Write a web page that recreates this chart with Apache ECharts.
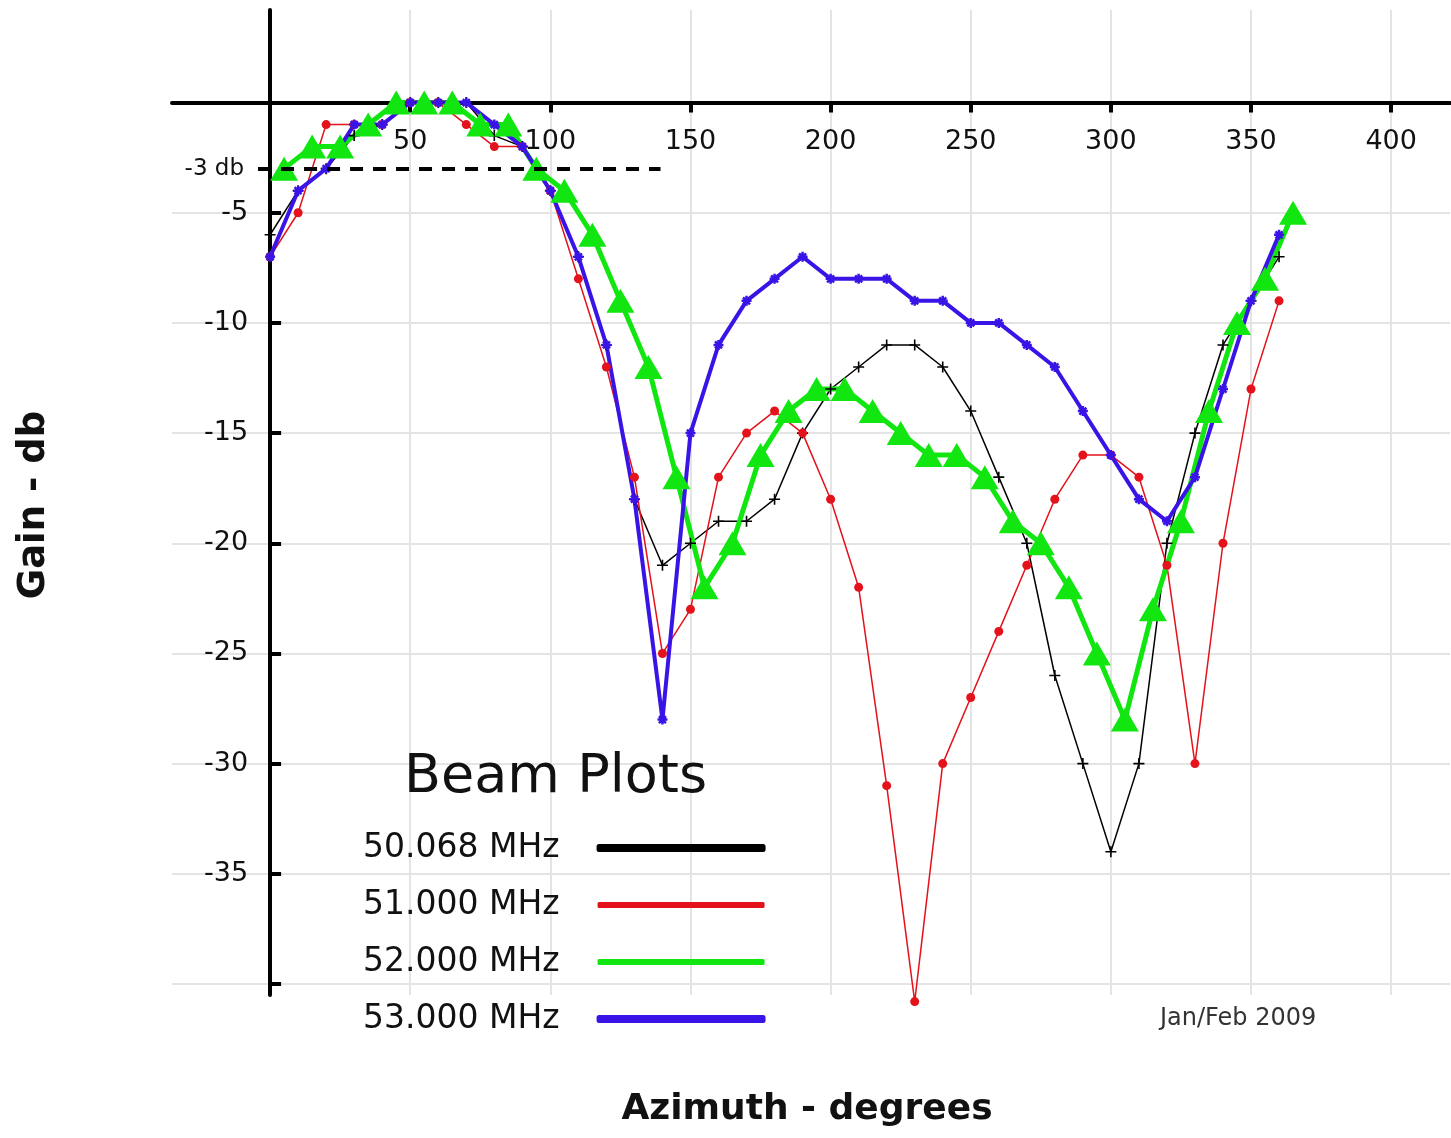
<!DOCTYPE html>
<html>
<head>
<meta charset="utf-8">
<script src="https://cdn.jsdelivr.net/npm/echarts@6/dist/echarts.min.js"></script>
<style>
html,body{margin:0;padding:0;background:#fff;}
#chart{width:1451px;height:1138px;}
</style>
</head>
<body>
<div id="chart"></div>
<script>
// ---- Data ----
const seriesNames = ['50.068 MHz', '51.000 MHz', '52.000 MHz', '53.000 MHz'];

const azimuth = [0,10,20,30,40,50,60,70,80,90,100,110,120,130,140,150,160,170,180,190,200,210,220,230,240,250,260,270,280,290,300,310,320,330,340,350,360];
const azimuthGreen = [5,15,25,35,45,55,65,75,85,95,105,115,125,135,145,155,165,175,185,195,205,215,225,235,245,255,265,275,285,295,305,315,325,335,345,355,365];

const gain50068 = [-6,-4,-3,-1.5,-1,0,0,0,-1.5,-2,-4,-7,-11,-18,-21,-20,-19,-19,-18,-15,-13,-12,-11,-11,-12,-14,-17,-20,-26,-30,-34,-30,-20,-15,-11,-9,-7];
const gain51000 = [-7,-5,-1,-1,-1,0,0,-1,-2,-2,-4,-8,-12,-17,-25,-23,-17,-15,-14,-15,-18,-22,-31,-40.8,-30,-27,-24,-21,-18,-16,-16,-17,-21,-30,-20,-13,-9];
const gain52000 = [-3,-2,-2,-1,0,0,0,-1,-1,-3,-4,-6,-9,-12,-17,-22,-20,-16,-14,-13,-13,-14,-15,-16,-16,-17,-19,-20,-22,-25,-28,-23,-19,-14,-10,-8,-5];
const gain53000 = [-7,-4,-3,-1,-1,0,0,0,-1,-2,-4,-7,-11,-18,-28,-15,-11,-9,-8,-7,-8,-8,-8,-9,-9,-10,-10,-11,-12,-14,-16,-18,-19,-17,-13,-9,-6];

const xTickValues = [0,50,100,150,200,250,300,350,400];
const xLabelValues = [50,100,150,200,250,300,350,400];
const yTickValues = [-40,-35,-30,-25,-20,-15,-10,-5,0];
const yLabelValues = [-35,-30,-25,-20,-15,-10,-5];

const halfPowerDb = -3;
const halfPowerSpan = [-4.3, 139.3];

// ---- Layout ----
const W = 1451, H = 1138;
const G = {left: 172, right: 1, top: 10, bottom: 143};
const X_RANGE = [-35, 421];
const Y_RANGE = [-40.5, 4.2];
const plotW = W - G.left - G.right;
const plotH = H - G.top - G.bottom;
// axes cross at (0, 0): shift the axes from the grid edges onto the zero lines
const xAxisOffset = -(plotH * (0 - Y_RANGE[0]) / (Y_RANGE[1] - Y_RANGE[0]));
const yAxisOffset = -(plotW * (0 - X_RANGE[0]) / (X_RANGE[1] - X_RANGE[0]));

function pairs(xs, ys) { return xs.map((x, i) => [x, ys[i]]); }

const FONT = '"DejaVu Sans", "Liberation Sans", sans-serif';
const plusPath = 'path://M0,5L10,5M5,0L5,10';
const starPath = 'path://M0,5L10,5M5,0L5,10M1.5,1.5L8.5,8.5M1.5,8.5L8.5,1.5';

const chart = echarts.init(document.getElementById('chart'), null, {renderer: 'canvas'});

const option = {
  animation: false,
  backgroundColor: '#ffffff',
  textStyle: {fontFamily: FONT},
  title: [
    {
      text: 'Beam Plots', left: 404, top: 751, padding: 0,
      textStyle: {fontSize: 54, fontWeight: 'normal', color: '#111', fontFamily: FONT}
    },
    {
      text: 'Jan/Feb 2009', left: 1160, top: 1007, padding: 0,
      textStyle: {fontSize: 24, fontWeight: 'normal', color: '#333', fontFamily: FONT}
    }
  ],
  legend: {
    orient: 'vertical',
    align: 'right',
    left: 363,
    top: 830,
    padding: 0,
    itemGap: 21,
    itemWidth: 167,
    itemHeight: 6,
    icon: 'roundRect',
    data: seriesNames,
    textStyle: {fontSize: 33, color: '#111', fontFamily: FONT, lineHeight: 36, padding: [0, 33, 0, 0]}
  },
  grid: {left: G.left, right: G.right, top: G.top, bottom: G.bottom, containLabel: false, outerBoundsMode: 'none'},
  xAxis: {
    type: 'value',
    position: 'bottom',
    offset: xAxisOffset,
    min: X_RANGE[0], max: X_RANGE[1],
    minInterval: 50, maxInterval: 50,
    axisLine: {show: true, onZero: false, lineStyle: {color: '#000', width: 4}},
    axisTick: {show: true, customValues: xTickValues, length: 10, inside: false, lineStyle: {color: '#000', width: 4}},
    axisLabel: {
      customValues: xLabelValues, fontSize: 27, color: '#111', margin: 26, fontFamily: FONT,
      formatter: v => (xLabelValues.indexOf(v) >= 0 ? String(v) : '')
    },
    splitLine: {show: true, lineStyle: {color: '#e4e4e4', width: 2}}
  },
  yAxis: {
    type: 'value',
    position: 'left',
    offset: yAxisOffset,
    min: Y_RANGE[0], max: Y_RANGE[1],
    minInterval: 5, maxInterval: 5,
    axisLine: {show: true, onZero: false, lineStyle: {color: '#000', width: 4}},
    axisTick: {show: true, customValues: yTickValues, length: 11, inside: true, lineStyle: {color: '#000', width: 4}},
    axisLabel: {
      customValues: yLabelValues, fontSize: 27, color: '#111', margin: 22, fontFamily: FONT,
      formatter: v => (yLabelValues.indexOf(v) >= 0 ? String(v) : '')
    },
    splitLine: {show: true, lineStyle: {color: '#e4e4e4', width: 2}}
  },
  graphic: [
    {
      type: 'text', x: 34, y: 505, rotation: Math.PI / 2, z: 10,
      style: {text: 'Gain - db', font: 'bold 37px ' + FONT, fill: '#111', textAlign: 'center', textVerticalAlign: 'middle', align: 'center', verticalAlign: 'middle'}
    },
    {
      type: 'text', x: 807, y: 1110, z: 10,
      style: {text: 'Azimuth - degrees', font: 'bold 36px ' + FONT, fill: '#111', textAlign: 'center', textVerticalAlign: 'middle', align: 'center', verticalAlign: 'middle'}
    }
  ],
  series: [
    {
      name: seriesNames[0], type: 'line', data: pairs(azimuth, gain50068),
      showAllSymbol: true, symbol: plusPath, symbolSize: 11, symbolKeepAspect: true,
      itemStyle: {color: '#000', borderColor: '#000', borderWidth: 1.6},
      lineStyle: {color: '#000', width: 1.5},
      clip: false,
      markLine: {
        silent: true, symbol: ['none', 'none'], animation: false,
        lineStyle: {color: '#000', width: 4, type: [13, 10]},
        label: {show: true, position: 'start', formatter: '-3 db', fontSize: 23, color: '#111', distance: 14, fontFamily: FONT},
        data: [[{coord: [halfPowerSpan[0], halfPowerDb]}, {coord: [halfPowerSpan[1], halfPowerDb]}]]
      }
    },
    {
      name: seriesNames[1], type: 'line', data: pairs(azimuth, gain51000),
      showAllSymbol: true, symbol: 'circle', symbolSize: 9,
      itemStyle: {color: '#e3121b', borderWidth: 0},
      lineStyle: {color: '#e3121b', width: 1.5},
      clip: false
    },
    {
      name: seriesNames[2], type: 'line', data: pairs(azimuthGreen, gain52000),
      showAllSymbol: true, symbol: 'triangle', symbolSize: [28, 24],
      itemStyle: {color: '#11e611', borderWidth: 0},
      lineStyle: {color: '#11e611', width: 5},
      clip: false
    },
    {
      name: seriesNames[3], type: 'line', data: pairs(azimuth, gain53000),
      showAllSymbol: true, symbol: starPath, symbolSize: 10, symbolKeepAspect: true,
      itemStyle: {color: '#3a14e6', borderColor: '#3a14e6', borderWidth: 2.5},
      lineStyle: {color: '#3a14e6', width: 4},
      clip: false
    }
  ]
};

chart.setOption(option);
</script>
</body>
</html>
